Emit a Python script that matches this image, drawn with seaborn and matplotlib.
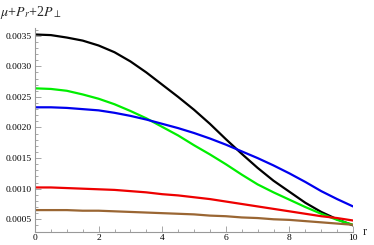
import pandas as pd
import seaborn as sns
import matplotlib
matplotlib.use("Agg")
import matplotlib.pyplot as plt
from matplotlib.ticker import MultipleLocator, FormatStrFormatter

# values, every 0.5 in r
r = [0, 0.5, 1, 1.5, 2, 2.5, 3, 3.5, 4, 4.5, 5, 5.5, 6, 6.5, 7, 7.5, 8, 8.5, 9, 9.5, 10]
black = [0.00352, 0.00351, 0.00347, 0.00342, 0.00334, 0.00323, 0.00308, 0.00290, 0.00270, 0.00250,
         0.00229, 0.00206, 0.00181, 0.00157, 0.00134, 0.00113, 0.00095, 0.00077, 0.00062, 0.00050, 0.00040]
green = [0.00264, 0.00263, 0.00260, 0.00254, 0.00247, 0.00238, 0.00227, 0.00215, 0.00201, 0.00187,
         0.00171, 0.00156, 0.00140, 0.00123, 0.00107, 0.00094, 0.00082, 0.00070, 0.00059, 0.00049, 0.00041]
blue = [0.00233, 0.00233, 0.00232, 0.00230, 0.00228, 0.00224, 0.00219, 0.00213, 0.00206, 0.00199,
        0.00191, 0.00182, 0.00172, 0.00161, 0.00150, 0.00138, 0.00125, 0.00111, 0.00096, 0.00083, 0.00071]
red = [0.00102, 0.00102, 0.00101, 0.00100, 0.00099, 0.00098, 0.00096, 0.00094, 0.00091, 0.00089,
       0.00086, 0.00083, 0.00079, 0.00075, 0.00071, 0.00067, 0.00063, 0.00059, 0.00055, 0.00052, 0.00048]
brown = [0.00065, 0.00065, 0.00065, 0.00064, 0.00064, 0.00063, 0.00062, 0.00061, 0.00060, 0.00059,
         0.00058, 0.00056, 0.00055, 0.00053, 0.00052, 0.00050, 0.00049, 0.00047, 0.00045, 0.00043, 0.00041]

series = {"black": black, "green": green, "blue": blue, "red": red, "brown": brown}
colors = {"black": "#000000", "green": "#00ee00", "blue": "#0000ee",
          "red": "#ee0000", "brown": "#9a6633"}

frames = []
for name, vals in series.items():
    frames.append(pd.DataFrame({"r": r, "value": vals, "curve": name}))
df = pd.concat(frames, ignore_index=True)

sns.set_style("ticks")
plt.rcParams["font.family"] = ["Liberation Serif", "DejaVu Serif"]
plt.rcParams["mathtext.fontset"] = "stix"

fig = plt.figure(figsize=(3.74, 2.45), dpi=100)
ax = fig.add_axes([0.0936, 0.0543, 0.8503, 0.8314])

sns.lineplot(data=df, x="r", y="value", hue="curve", palette=colors,
             linewidth=1.6, legend=False, ax=ax)

ax.set_xlim(0, 10)
ax.set_ylim(0.000297, 0.003626)
ax.xaxis.set_major_locator(MultipleLocator(2))
ax.xaxis.set_minor_locator(MultipleLocator(0.5))
ax.yaxis.set_major_locator(MultipleLocator(0.0005))
ax.yaxis.set_minor_locator(MultipleLocator(0.0001))
ax.yaxis.set_major_formatter(FormatStrFormatter("%.4f"))
ax.xaxis.set_major_formatter(FormatStrFormatter("%d"))

sns.despine(ax=ax)
for side in ["left", "bottom"]:
    ax.spines[side].set_color("#999999")
    ax.spines[side].set_linewidth(0.8)
ax.tick_params(which="both", direction="in", colors="#999999", labelcolor="black",
               labelsize=6.8, width=0.6, pad=2)
ax.tick_params(which="major", length=4)
ax.tick_params(which="minor", length=2)
ax.set_xlabel("")
ax.set_ylabel("")

fig.text(0.0, 0.95, r"$\mu$+$P_r$+2$P_\perp$", fontsize=10, ha="left", va="center")
fig.text(0.975, 0.054, "r", fontsize=9, ha="center", va="center")

fig.savefig("out.png", dpi=100)
